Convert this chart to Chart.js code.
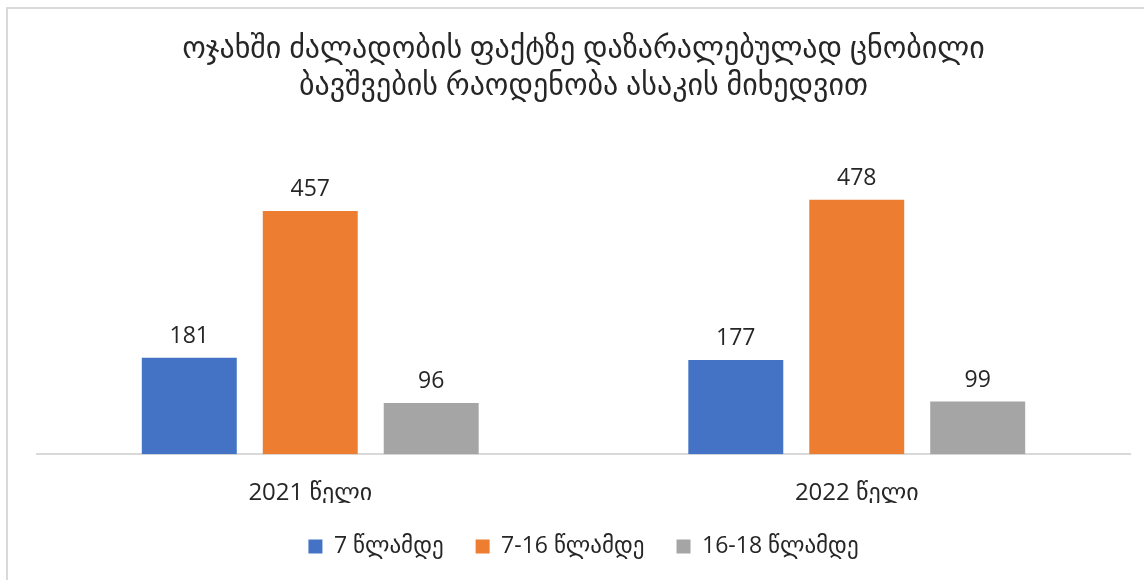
<!DOCTYPE html>
<html lang="ka">
<head>
  <meta charset="UTF-8">
  <title>ბავშვები ასაკის მიხედვით</title>
  <style>
    body {
      margin: 0;
      background: #fff;
    }
    .frame {
      position: absolute;
      left: 6px;
      top: 7px;
      width: 1150px;
      height: 590px;
      border-left: 2px solid #d9d9d9;
      border-top: 2px solid #d9d9d9;
    }
    .chart-box {
      position: absolute;
      left: 0;
      top: 0;
      width: 1144px;
      height: 580px;
    }
  </style>
  <script src="https://cdn.jsdelivr.net/npm/chart.js"></script>
</head>
<body>
  <div class="frame"></div>
  <div class="chart-box"><canvas id="chart"></canvas></div>

  <script>
    const fontStack = '"Open Sans", "DejaVu Sans", sans-serif';

    // Chart data
    const titleLines = [
      'ოჯახში ძალადობის ფაქტზე დაზარალებულად ცნობილი',
      'ბავშვების რაოდენობა ასაკის მიხედვით'
    ];
    const years = ['2021 წელი', '2022 წელი'];
    const seriesNames = ['7 წლამდე', '7-16 წლამდე', '16-18 წლამდე'];
    const under7 = [181, 177];
    const from7to16 = [457, 478];
    const from16to18 = [96, 99];
    const seriesColors = ['#4472C4', '#ED7D31', '#A5A5A5'];

    // Draws the value above each bar
    const valueLabels = {
      id: 'valueLabels',
      afterDatasetsDraw(chart) {
        const ctx = chart.ctx;
        ctx.save();
        ctx.font = '23px ' + fontStack;
        ctx.fillStyle = '#262626';
        ctx.textAlign = 'center';
        ctx.textBaseline = 'bottom';
        chart.data.datasets.forEach((ds, i) => {
          const meta = chart.getDatasetMeta(i);
          meta.data.forEach((bar, j) => {
            ctx.fillText(ds.data[j], bar.x, bar.y - 10);
          });
        });
        ctx.restore();
      }
    };

    const allSeries = [under7, from7to16, from16to18];
    const datasets = allSeries.map((values, i) => ({
      label: seriesNames[i],
      data: values,
      backgroundColor: seriesColors[i],
      categoryPercentage: 0.664,
      barPercentage: 0.785
    }));

    new Chart(document.getElementById('chart').getContext('2d'), {
      type: 'bar',
      data: {
        labels: years,
        datasets: datasets
      },
      options: {
        responsive: true,
        maintainAspectRatio: false,
        animation: false,
        layout: {
          padding: { left: 37, right: 14, top: 31, bottom: 12 }
        },
        scales: {
          x: {
            grid: { display: false },
            border: { display: true, color: '#d9d9d9', width: 2 },
            ticks: {
              color: '#262626',
              font: { family: fontStack, size: 24 },
              padding: 17
            },
            // tighten the gap between the year labels and the legend
            afterFit(scale) {
              scale.height -= 22;
            }
          },
          y: {
            display: false,
            min: 0,
            max: 600
          }
        },
        plugins: {
          title: {
            display: true,
            text: titleLines,
            color: '#262626',
            font: { family: fontStack, size: 30, weight: 'normal', lineHeight: 1.23 },
            padding: { top: 0, bottom: 30 }
          },
          legend: {
            display: true,
            position: 'bottom',
            labels: {
              color: '#262626',
              font: { family: fontStack, size: 23 },
              boxWidth: 14,
              boxHeight: 14,
              padding: 32
            }
          },
          tooltip: { enabled: false }
        }
      },
      plugins: [valueLabels]
    });
  </script>
</body>
</html>
